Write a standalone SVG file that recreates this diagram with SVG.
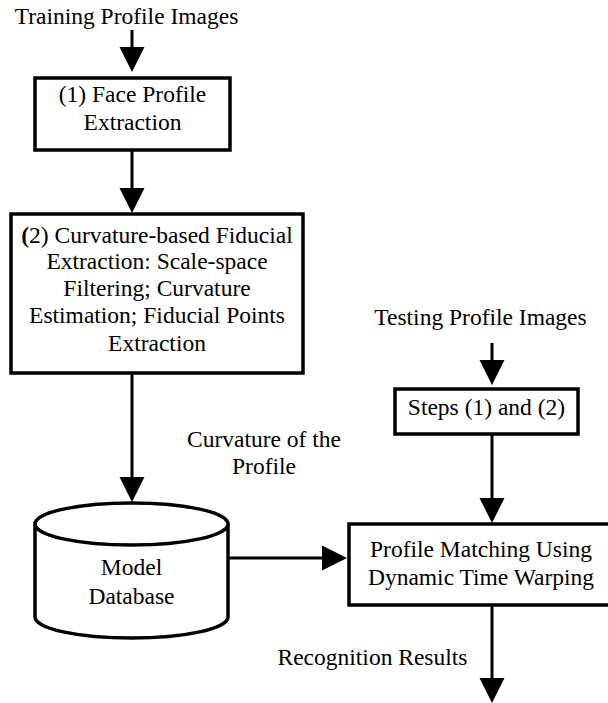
<svg xmlns="http://www.w3.org/2000/svg" width="608" height="703" viewBox="0 0 608 703">
  <style>
    .box { fill: #ffffff; stroke: #000000; stroke-width: 3.5; }
    .line { fill: none; stroke: #000000; stroke-width: 3; }
    .head { fill: #000000; stroke: none; }
    text { font-family: "Liberation Serif", "Times New Roman", serif; font-size: 23.5px; fill: #000000; text-anchor: middle; }
  </style>
  <rect width="608" height="703" fill="#ffffff"/>

  <!-- free labels -->
  <g id="label-training">
    <text x="126.5" y="24">Training Profile Images</text>
  </g>
  <g id="label-testing">
    <text x="480.5" y="325">Testing Profile Images</text>
  </g>
  <g id="label-curvature">
    <text x="264" y="447">Curvature of the</text>
    <text x="264" y="474">Profile</text>
  </g>
  <g id="label-results">
    <text x="372.5" y="665">Recognition Results</text>
  </g>

  <!-- connectors -->
  <g id="connectors">
    <line class="line" x1="132" y1="30" x2="132" y2="50"/>
    <polygon class="head" points="119.5,47 144.5,47 132,72"/>

    <line class="line" x1="132" y1="150" x2="132" y2="191"/>
    <polygon class="head" points="119.5,188 144.5,188 132,213"/>

    <line class="line" x1="132" y1="373" x2="132" y2="480"/>
    <polygon class="head" points="119.5,477 144.5,477 132,502"/>

    <line class="line" x1="228" y1="558" x2="325" y2="558"/>
    <polygon class="head" points="322,545.5 322,570.5 347,558"/>

    <line class="line" x1="492" y1="343" x2="492" y2="363"/>
    <polygon class="head" points="479.5,360 504.5,360 492,385"/>

    <line class="line" x1="492" y1="434" x2="492" y2="501"/>
    <polygon class="head" points="479.5,498 504.5,498 492,523"/>

    <line class="line" x1="492" y1="605" x2="492" y2="681"/>
    <polygon class="head" points="479.5,678 504.5,678 492,703"/>
  </g>

  <!-- nodes -->
  <g id="node-face-profile">
    <rect class="box" x="35" y="78" width="195" height="72"/>
    <text x="132.5" y="102">(1) Face Profile</text>
    <text x="132.5" y="130">Extraction</text>
  </g>

  <g id="node-fiducial">
    <rect class="box" x="11" y="214" width="292" height="159"/>
    <text x="157" y="243"><tspan font-weight="bold">(</tspan>2) Curvature-based Fiducial</text>
    <text x="157" y="269">Extraction: Scale-space</text>
    <text x="157" y="296">Filtering; Curvature</text>
    <text x="157" y="323">Estimation; Fiducial Points</text>
    <text x="157" y="351">Extraction</text>
  </g>

  <g id="node-database">
    <path class="box" d="M35,524 L35,617 A96.5,21 0 0 0 228,617 L228,524"/>
    <ellipse class="box" cx="131.5" cy="524" rx="96.5" ry="21"/>
    <text x="131.5" y="575">Model</text>
    <text x="131.5" y="604">Database</text>
  </g>

  <g id="node-steps">
    <rect class="box" x="395" y="389" width="183" height="45"/>
    <text x="486.5" y="415">Steps (1) and (2)</text>
  </g>

  <g id="node-matching">
    <rect class="box" x="349" y="524" width="266" height="81"/>
    <text x="481" y="557">Profile Matching Using</text>
    <text x="481" y="585">Dynamic Time Warping</text>
  </g>
</svg>
